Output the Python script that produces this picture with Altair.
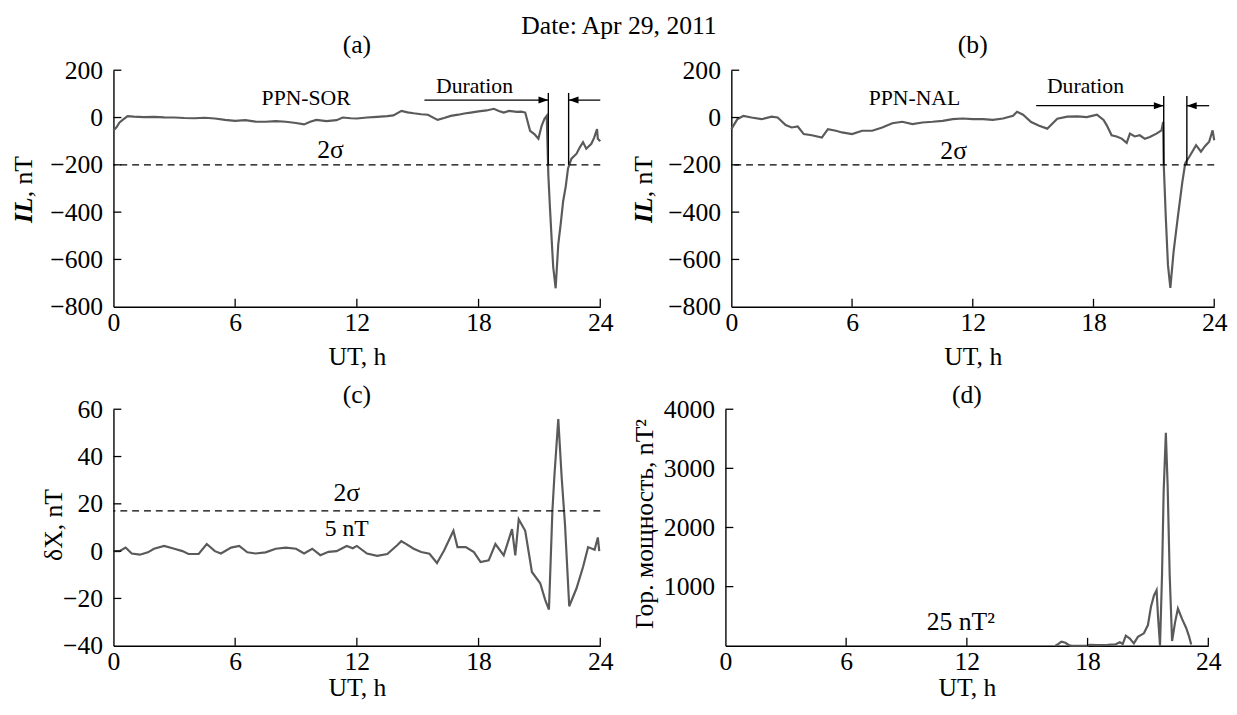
import altair as alt
import pandas as pd

FONT = "Liberation Serif"
FS = 26
LINE_COLOR = "#5a5a5a"

# ---------------- data ----------------
# (a) IL, PPN-SOR
a_t = [0, 0.15, 0.3, 0.5, 0.7, 1.0, 1.5, 2.0, 2.5, 3.0, 3.5, 4.0, 4.5, 5.0, 5.5, 6.0, 6.5, 7.0, 7.5, 8.0,
       8.5, 9.0, 9.4, 9.7, 10.0, 10.5, 11.0, 11.3, 11.7, 12.0, 12.5, 13.0, 13.5, 13.8, 14.2, 14.5, 14.8,
       15.17, 15.5, 15.98, 16.3, 16.63, 17.0, 17.3, 17.61, 18.0, 18.4, 18.75, 19.0, 19.24, 19.5, 19.89,
       20.1, 20.3, 20.54, 20.75, 20.95, 21.11, 21.25, 21.36, 21.44, 21.52, 21.6, 21.68, 21.8, 21.93,
       22.05, 22.17, 22.3, 22.41, 22.58, 22.83, 23.0, 23.15, 23.31, 23.56, 23.7, 23.84, 23.88, 24.0]
a_v = [-55, -41, -21, -7, 6, 4, 2, 3, 1, 0, -2, -3, -1, -4, -10, -14, -11, -17, -18, -15,
       -18, -23, -29, -18, -10, -15, -11, 0, -3, -4, 0, 3, 6, 9, 28, 22, 18,
       14, 12, -10, -2, 7, 12, 17, 21, 26, 30, 37, 28, 21, 28, 24,
       25, 21, -56, -70, -90, -35, -5, 7, -243, -382, -510, -632, -722, -535,
       -450, -354, -290, -215, -174, -153, -125, -104, -132, -111, -85, -49, -90, -100]

# (b) IL, PPN-NAL
b_t = [0, 0.3, 0.6, 1.0, 1.5, 2.0, 2.3, 2.7, 3.0, 3.3, 3.6, 4.0, 4.5, 4.8, 5.2, 5.5, 6.0, 6.5, 7.0, 7.5,
       8.0, 8.5, 9.0, 9.5, 10.0, 10.5, 11.0, 11.5, 12.0, 12.5, 13.0, 13.5, 14.0, 14.2, 14.5, 14.9, 15.3,
       15.7, 16.2, 16.7, 17.2, 17.67, 18.17, 18.5, 18.66, 18.9, 19.15, 19.4, 19.65, 19.81, 20.05, 20.3,
       20.55, 20.8, 21.13, 21.38, 21.46, 21.49, 21.59, 21.7, 21.82, 21.98, 22.2, 22.41, 22.56, 22.77,
       23.1, 23.34, 23.55, 23.75, 23.92, 24.0]
b_v = [-49, -7, 7, 0, -7, 4, 0, -32, -42, -38, -70, -75, -85, -49, -56, -63, -70, -56, -56, -42,
       -24, -18, -28, -21, -18, -14, -7, -4, -7, -7, -10, -4, 7, 24, 12, -19, -35,
       -47, -5, 4, 5, 2, 12, -10, -33, -75, -80, -89, -107, -68, -80, -75,
       -90, -82, -68, -54, -19, -193, -415, -623, -720, -568, -415, -276, -193, -165,
       -117, -144, -120, -102, -54, -96]

# (c) dX
c_t = [0, 0.3, 0.6, 0.9, 1.3, 1.7, 2.0, 2.5, 3.0, 3.4, 3.7, 4.2, 4.6, 5.0, 5.3, 5.8, 6.2, 6.6, 7.0, 7.5,
       8.0, 8.5, 9.0, 9.4, 9.8, 10.2, 10.6, 11.0, 11.5, 11.8, 12.0, 12.5, 13.0, 13.5, 14.0, 14.19, 14.4,
       14.8, 15.17, 15.58, 15.95, 16.3, 16.76, 16.96, 17.37, 17.77, 18.1, 18.5, 18.83, 19.24, 19.65,
       19.81, 19.98, 20.3, 20.63, 21.04, 21.28, 21.47, 21.64, 21.74, 21.93, 22.1, 22.26, 22.47, 22.83,
       23.15, 23.4, 23.72, 23.88, 23.95]
c_v = [0, 0, 1.5, -1, -1.5, -0.5, 1, 2.2, 1, 0, -1.2, -1.2, 3, 0, -1, 1.5, 2.2, -0.5, -1, -0.5,
       1, 1.5, 1, -1, 1, -1.7, -0.3, 0, 2.2, 1.2, 2.2, -1, -2, -1.2, 2.6, 4.2, 3.2,
       1, -0.4, -1.1, -5, 0.3, 8.6, 1.7, 1.7, -0.4, -4.6, -3.9, 3, -1.8, 9.3,
       -1.8, 13.5, 8.6, -8.8, -13.6, -20.5, -24.7, 17, 32, 55.8, 30.8, 11.4, -23.3, -15.7,
       -6.7, 1.7, 0.6, 5.8, 0]

# (d) horizontal power
d_t = [16.4, 16.55, 16.7, 16.9, 17.07, 17.2, 18.0, 18.1, 18.5, 19.0, 19.4, 19.6, 19.75, 19.9, 20.1,
       20.3, 20.5, 20.8, 21.0, 21.15, 21.3, 21.43, 21.5, 21.6, 21.7, 21.78, 21.89, 21.98, 22.08, 22.2,
       22.35, 22.49, 22.7, 22.9, 23.05, 23.15]
d_v = [0, 30, 70, 50, 10, 0, 0, 15, 10, 15, 25, 60, 30, 170, 120,
       40, 150, 210, 350, 660, 850, 940, 500, 0, 1200, 2600, 3600, 2700, 1200, 80,
       400, 630, 450, 300, 150, 20]

X_LABELS = [0, 6, 12, 18, 24]
X_INNER_TICKS = [6, 12, 18, 24]

H = 240

ARROW_R = "M0,0 L-1,-0.35 L-1,0.35 Z"
ARROW_L = "M0,0 L1,-0.35 L1,0.35 Z"


def xenc(axis=None):
    kw = dict(scale=alt.Scale(domain=[0, 24], nice=False, zero=False))
    if axis is not None:
        kw["axis"] = axis
    return alt.X("t:Q", **kw)


def yenc(domain, axis=None):
    kw = dict(scale=alt.Scale(domain=domain, nice=False, zero=False))
    if axis is not None:
        kw["axis"] = axis
    return alt.Y("v:Q", **kw)


def panel(t, v, title, title_offset, width, ydomain, ylabels, yinner, x_title_y, sigma, texts,
          ytitle=None, ytitle_x=0, ytitle_y=0, il=None, duration=None):
    xaxis = alt.Axis(values=X_LABELS, format="d", title="UT, h", titleY=x_title_y,
                     titleBaseline="middle", labelPadding=3)
    if ytitle is not None:
        yaxis = alt.Axis(values=ylabels, format="d", title=ytitle, titleX=ytitle_x,
                         titleY=ytitle_y, titleBaseline="middle", titleAngle=270,
                         labelPadding=11)
    else:
        yaxis = alt.Axis(values=ylabels, format="d", title=None, labelPadding=11)

    df = pd.DataFrame({"t": t, "v": v})
    layers = []
    layers.append(
        alt.Chart(df).mark_line(color=LINE_COLOR, strokeWidth=2.2, interpolate="linear")
        .encode(x=xenc(xaxis), y=yenc(ydomain, yaxis))
    )
    # 2-sigma dashed level
    if sigma is not None:
        layers.append(
            alt.Chart(pd.DataFrame({"v": [sigma]})).mark_rule(color="black", strokeWidth=1.3, strokeDash=[7, 5])
            .encode(y=yenc(ydomain))
        )
    # inward ticks
    layers.append(
        alt.Chart(pd.DataFrame({"t": X_INNER_TICKS})).mark_rule(color="black", strokeWidth=1.3)
        .encode(x=xenc(), y=alt.value(H), y2=alt.value(H - 8))
    )
    layers.append(
        alt.Chart(pd.DataFrame({"v": yinner})).mark_rule(color="black", strokeWidth=1.3)
        .encode(y=yenc(ydomain), x=alt.value(0), x2=alt.value(8))
    )
    # annotations
    for (lab, tx, vy, fs) in texts:
        layers.append(
            alt.Chart(pd.DataFrame({"t": [tx], "v": [vy], "lab": [lab]}))
            .mark_text(font=FONT, fontSize=fs, color="black", align="center", baseline="middle")
            .encode(x=xenc(), y=yenc(ydomain), text="lab:N")
        )
    if duration is not None:
        (l_x, r_x, top, bot, arr_y, l_from, r_from) = duration
        vl = pd.DataFrame({"t": [l_x, r_x], "v": [top, top], "v2": [bot, bot]})
        layers.append(
            alt.Chart(vl).mark_rule(color="black", strokeWidth=1.4)
            .encode(x=xenc(), y=yenc(ydomain), y2=alt.Y2("v2:Q"))
        )
        sh = pd.DataFrame({"t": [l_from, r_from], "t2": [l_x, r_x], "v": [arr_y, arr_y]})
        layers.append(
            alt.Chart(sh).mark_rule(color="black", strokeWidth=1.3)
            .encode(x=xenc(), x2=alt.X2("t2:Q"), y=yenc(ydomain))
        )
        layers.append(
            alt.Chart(pd.DataFrame({"t": [l_x], "v": [arr_y]}))
            .mark_point(shape=ARROW_R, filled=True, size=400, color="black", opacity=1)
            .encode(x=xenc(), y=yenc(ydomain))
        )
        layers.append(
            alt.Chart(pd.DataFrame({"t": [r_x], "v": [arr_y]}))
            .mark_point(shape=ARROW_L, filled=True, size=400, color="black", opacity=1)
            .encode(x=xenc(), y=yenc(ydomain))
        )
    if il is not None:
        ix, iy = il
        layers.append(
            alt.Chart(pd.DataFrame({"lab": ["IL"]}))
            .mark_text(font=FONT, fontSize=FS, fontStyle="italic", fontWeight="bold", color="black",
                       angle=270, align="right", baseline="middle")
            .encode(text="lab:N", x=alt.value(ix), y=alt.value(iy))
        )
        layers.append(
            alt.Chart(pd.DataFrame({"lab": [", nT"]}))
            .mark_text(font=FONT, fontSize=FS, color="black",
                       angle=270, align="left", baseline="middle")
            .encode(text="lab:N", x=alt.value(ix), y=alt.value(iy))
        )
    return alt.layer(*layers).properties(
        width=width, height=H,
        title=alt.TitleParams(title, frame="group", anchor="middle", offset=title_offset),
    )


pa = panel(a_t, a_v, "(a)", -1, 494, [-800, 200], [200, 0, -200, -400, -600, -800], [200, 0, -200, -400, -600],
           51, -200,
           [("PPN-SOR", 9.5, 83, 22), ("Duration", 17.8, 131, 22), ("2σ", 10.7, -138, FS)],
           il=(-91, 129),
           duration=(21.44, 22.44, 104, -200, 74, 15.33, 24.0))
pb = panel(b_t, b_v, "(b)", -1, 490, [-800, 200], [200, 0, -200, -400, -600, -800], [200, 0, -200, -400, -600],
           51, -200,
           [("PPN-NAL", 9.1, 84, 22), ("Duration", 17.6, 134, 22), ("2σ", 11.05, -141, FS)],
           il=(-88, 129),
           duration=(21.49, 22.64, 91, -200, 50, 15.15, 23.75))
pc = panel(c_t, c_v, "(c)", -12, 494, [-40, 60], [60, 40, 20, 0, -20, -40], [60, 40, 20, 0, -20],
           43, 17,
           [("2σ", 11.5, 24.5, FS), ("5 nT", 11.5, 9.2, 24)],
           ytitle="δX, nT", ytitle_x=-61, ytitle_y=117)
pd_ = panel(d_t, d_v, "(d)", -12, 490, [0, 4000], [1000, 2000, 3000, 4000], [4000, 3000, 2000, 1000],
            43, None,
            [("25 nT²", 11.7, 400, FS)],
            ytitle="Гор. мощность, nT²", ytitle_x=-82, ytitle_y=116)

chart = alt.vconcat(
    alt.hconcat(pa, pb, spacing=19),
    alt.hconcat(pc, pd_, spacing=19),
    spacing=13,
    title=alt.TitleParams("Date: Apr 29, 2011", anchor="middle", offset=-6),
).properties(
    padding={"left": 3, "top": 0, "right": 2, "bottom": 0}
).configure_axis(
    domainColor="black", domainWidth=1.4, tickSize=0, grid=False,
    labelFont=FONT, labelFontSize=FS, labelColor="black",
    titleFont=FONT, titleFontSize=FS, titleFontWeight="normal", titleColor="black",
    labelFlush=False, labelOverlap=False,
).configure_view(strokeWidth=0).configure_title(
    font=FONT, fontSize=FS, fontWeight="normal", color="black"
)

chart.save("out.html", embed_options={"renderer": "svg", "actions": False})
